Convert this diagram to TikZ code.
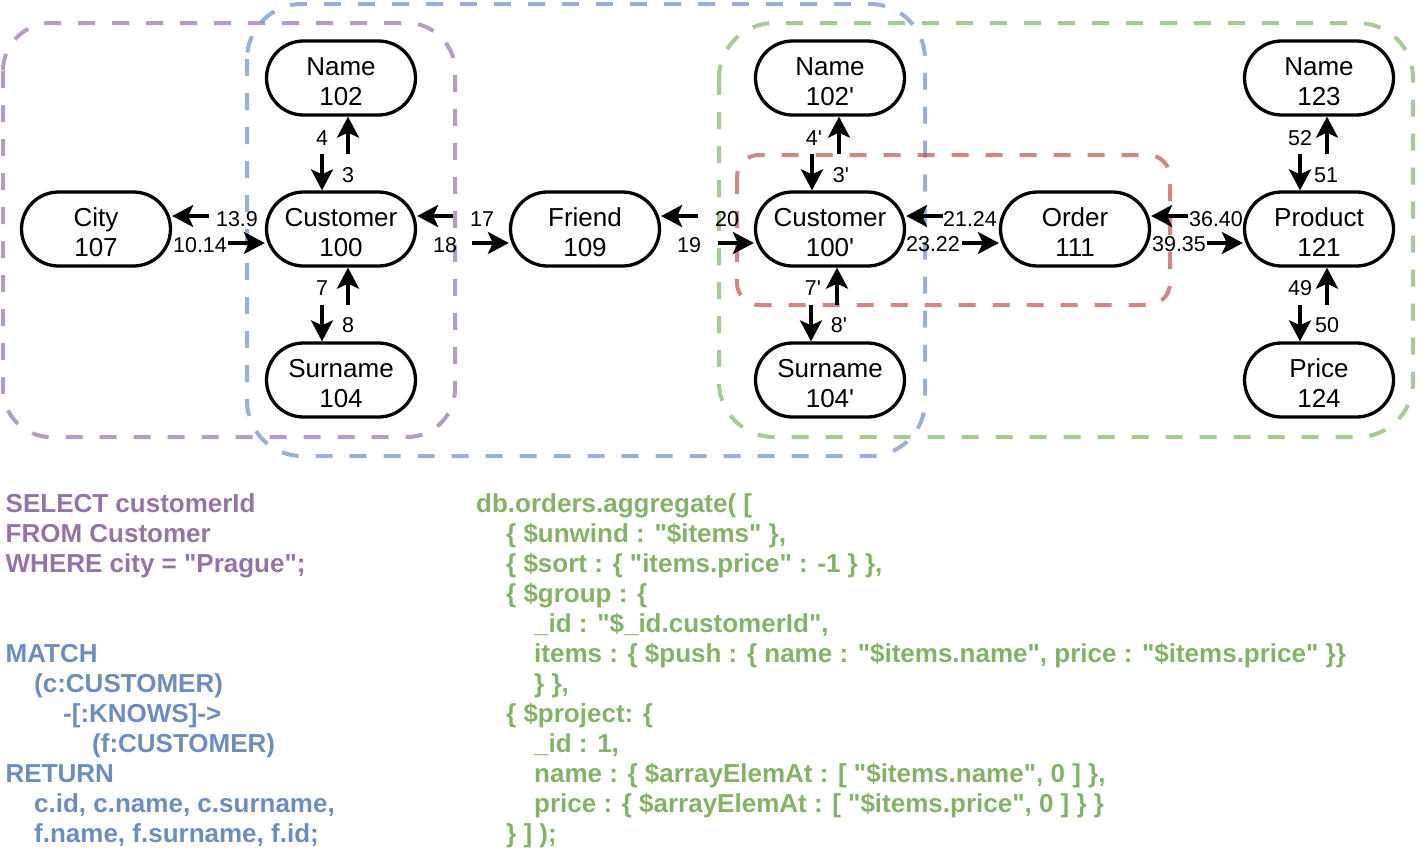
\documentclass[tikz,border=0pt]{standalone}
\usepackage{fontspec}
\setmainfont{Liberation Sans}[Ligatures=TeXOff]
\usetikzlibrary{arrows.meta}
\definecolor{cpur}{HTML}{9673A6}
\definecolor{cblu}{HTML}{6C8EBF}
\definecolor{cgrn}{HTML}{82B366}
\definecolor{cred}{HTML}{B85450}
\newcommand{\tstrut}{\rule{0pt}{24.6pt}}
\tikzset{
  nd/.style={draw=black, fill=white, line width=3.3pt, shape=rectangle, rounded corners=37pt,
    minimum width=149pt, minimum height=74pt, inner sep=0pt, align=center,
    font=\fontsize{26}{30}\selectfont},
  lbl/.style={anchor=base, inner sep=0pt, font=\fontsize{21.5}{24}\selectfont},
  arr/.style={line width=3.5pt, -{Stealth[length=21pt,width=22pt,inset=5pt]}},
  grp/.style={line width=4pt, dash pattern=on 17pt off 17pt, draw opacity=0.7},
  code/.style={anchor=base west, inner sep=0pt, font=\fontsize{26}{30}\selectfont\bfseries},
}
\begin{document}
\begin{tikzpicture}[x=1pt,y=-1pt]
\useasboundingbox (0,0) rectangle (1419,849);
% groups
\draw[grp, draw=cpur, rounded corners=48pt] (3,23) rectangle (455,437);
\draw[grp, draw=cblu, rounded corners=55pt] (247,4) rectangle (925,456);
\draw[grp, draw=cgrn, rounded corners=55pt] (719,23) rectangle (1413,437);
\draw[grp, draw=cred, rounded corners=22pt] (737,155) rectangle (1170,305);
% nodes
\node[nd] (name1) at (341,78) {\tstrut Name\\102};
\node[nd] (city) at (96,229) {\tstrut City\\107};
\node[nd] (cust1) at (341,229) {\tstrut Customer\\100};
\node[nd] (sur1) at (341,380) {\tstrut Surname\\104};
\node[nd] (friend) at (585,229) {\tstrut Friend\\109};
\node[nd] (name2) at (830,78) {\tstrut Name\\102'};
\node[nd] (cust2) at (830,229) {\tstrut Customer\\100'};
\node[nd] (sur2) at (830,380) {\tstrut Surname\\104'};
\node[nd] (order) at (1075,229) {\tstrut Order\\111};
\node[nd] (name3) at (1319,78) {\tstrut Name\\123};
\node[nd] (prod) at (1319,229) {\tstrut Product\\121};
\node[nd] (price) at (1319,380) {\tstrut Price\\124};
% horizontal arrow tails
\coordinate (h1a) at (209,216); \coordinate (h1b) at (228,243);
\coordinate (h2a) at (453,216); \coordinate (h2b) at (472,243);
\coordinate (h3a) at (698,216); \coordinate (h3b) at (718,243);
\coordinate (h4a) at (943,216); \coordinate (h4b) at (962,243);
\coordinate (h5a) at (1188,216); \coordinate (h5b) at (1207,243);
\draw[arr] (h1a) -- (h1a -| city.east);
\draw[arr] (h1b) -- (h1b -| cust1.west);
\draw[arr] (h2a) -- (h2a -| cust1.east);
\draw[arr] (h2b) -- (h2b -| friend.west);
\draw[arr] (h3a) -- (h3a -| friend.east);
\draw[arr] (h3b) -- (h3b -| cust2.west);
\draw[arr] (h4a) -- (h4a -| cust2.east);
\draw[arr] (h4b) -- (h4b -| order.west);
\draw[arr] (h5a) -- (h5a -| order.east);
\draw[arr] (h5b) -- (h5b -| prod.west);
% vertical arrow tails
\coordinate (v1a) at (322,154); \coordinate (v1b) at (348,154);
\coordinate (v1c) at (322,305); \coordinate (v1d) at (348,305);
\coordinate (v2a) at (812,154); \coordinate (v2b) at (839,154);
\coordinate (v2c) at (811,305); \coordinate (v2d) at (837,305);
\coordinate (v3a) at (1300,154); \coordinate (v3b) at (1327,154);
\coordinate (v3c) at (1300,305); \coordinate (v3d) at (1327,305);
\draw[arr] (v1a) -- (v1a |- cust1.north);
\draw[arr] (v1b) -- (v1b |- name1.south);
\draw[arr] (v1c) -- (v1c |- sur1.north);
\draw[arr] (v1d) -- (v1d |- cust1.south);
\draw[arr] (v2a) -- (v2a |- cust2.north);
\draw[arr] (v2b) -- (v2b |- name2.south);
\draw[arr] (v2c) -- (v2c |- sur2.north);
\draw[arr] (v2d) -- (v2d |- cust2.south);
\draw[arr] (v3a) -- (v3a |- prod.north);
\draw[arr] (v3b) -- (v3b |- name3.south);
\draw[arr] (v3c) -- (v3c |- price.north);
\draw[arr] (v3d) -- (v3d |- prod.south);
% edge labels
\node[lbl] (l139) at (237,226) {13.9};
\node[lbl] (l1014) at (200,252) {10.14};
\node[lbl] (l17) at (482,226) {17};
\node[lbl] (l18) at (445,252) {18};
\node[lbl] (l20) at (727,226) {20};
\node[lbl] (l19) at (689,252) {19};
\node[lbl] (l2124) at (970,226) {21.24};
\node[lbl] (l2322) at (933,251) {23.22};
\node[lbl] (l3640) at (1216,226) {36.40};
\node[lbl] (l3935) at (1179,251) {39.35};
\node[lbl] (l4) at (322,145) {4};
\node[lbl] (l3) at (348,182) {3};
\node[lbl] (l7) at (322,295) {7};
\node[lbl] (l8) at (348,332) {8};
\node[lbl] (l4p) at (814,145) {4'};
\node[lbl] (l3p) at (841,182) {3'};
\node[lbl] (l7p) at (813,295) {7'};
\node[lbl] (l8p) at (839,332) {8'};
\node[lbl] (l52) at (1300,145) {52};
\node[lbl] (l51) at (1326,182) {51};
\node[lbl] (l49) at (1300,295) {49};
\node[lbl] (l50) at (1327,332) {50};
% SQL
\node[code, text=cpur] (s1) at (5.5,512) {SELECT customerId};
\node[code, text=cpur] (s2) at (5.5,542) {FROM Customer};
\node[code, text=cpur] (s3) at (5.5,572) {WHERE city = "Prague";};
% Cypher
\node[code, text=cblu] (c1) at (5.5,662) {MATCH};
\node[code, text=cblu] (c2) at (34,692) {(c:CUSTOMER)};
\node[code, text=cblu] (c3) at (63,722) {-[:KNOWS]->};
\node[code, text=cblu] (c4) at (92,752) {(f:CUSTOMER)};
\node[code, text=cblu] (c5) at (5.5,782) {RETURN};
\node[code, text=cblu] (c6) at (34,812) {c.id, c.name, c.surname,};
\node[code, text=cblu] (c7) at (34,842) {f.name, f.surname, f.id;};
% Mongo
\node[code, text=cgrn] (m1) at (476,512) {db.orders.aggregate( [};
\node[code, text=cgrn] (m2) at (506,542) {\{ \$unwind : "\$items" \},};
\node[code, text=cgrn] (m3) at (506,572) {\{ \$sort : \{ "items.price" : -1 \} \},};
\node[code, text=cgrn] (m4) at (506,602) {\{ \$group : \{};
\node[code, text=cgrn] (m5) at (534,632) {\_id : "\$\_id.customerId",};
\node[code, text=cgrn] (m6) at (534,662) {items : \{ \$push : \{ name : "\$items.name", price : "\$items.price" \}\}};
\node[code, text=cgrn] (m7) at (534,692) {\} \},};
\node[code, text=cgrn] (m8) at (506,722) {\{ \$project: \{};
\node[code, text=cgrn] (m9) at (534,752) {\_id : 1,};
\node[code, text=cgrn] (m10) at (534,782) {name : \{ \$arrayElemAt : [ "\$items.name", 0 ] \},};
\node[code, text=cgrn] (m11) at (534,812) {price : \{ \$arrayElemAt : [ "\$items.price", 0 ] \} \}};
\node[code, text=cgrn] (m12) at (506,842) {\} ] );};
\end{tikzpicture}
\end{document}
